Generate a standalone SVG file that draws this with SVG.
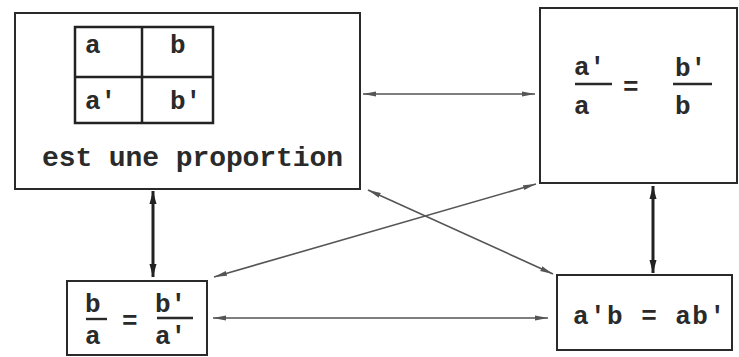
<svg xmlns="http://www.w3.org/2000/svg" width="739" height="357" viewBox="0 0 739 357">
<style>
.box{fill:none;stroke:#2a2a2a;stroke-width:2}
.grid{fill:none;stroke:#222;stroke-width:2.5}
.t{font-family:"Liberation Mono","Courier New",monospace;font-weight:bold;fill:#2a2a2a;font-size:26px}
.bar{stroke:#2a2a2a;stroke-width:2.4}
.thin{stroke:#555;stroke-width:1.6;fill:none;marker-start:url(#ah);marker-end:url(#ah)}
.thick{stroke:#222;stroke-width:3;fill:none;marker-start:url(#ahk);marker-end:url(#ahk)}
</style>
<defs>
<marker id="ah" markerUnits="userSpaceOnUse" markerWidth="14" markerHeight="8" refX="13" refY="3" orient="auto-start-reverse" viewBox="0 0 14 6">
<path d="M0,0.5 L13,3 L0,5.5 z" fill="#555"/>
</marker>
<marker id="ahk" markerUnits="userSpaceOnUse" markerWidth="14" markerHeight="8" refX="13" refY="4" orient="auto-start-reverse" viewBox="0 0 14 8">
<path d="M0,0.5 L13,4 L0,7.5 z" fill="#222"/>
</marker>
</defs>
<rect width="739" height="357" fill="#fff"/>
<g id="connectors">
<line class="thin" x1="363" y1="94" x2="535" y2="94"/>
<line class="thick" x1="153" y1="191" x2="153" y2="277"/>
<line class="thick" x1="653" y1="186" x2="653" y2="273"/>
<line class="thin" x1="214" y1="277" x2="536" y2="184"/>
<line class="thin" x1="368" y1="190" x2="553" y2="274"/>
<line class="thin" x1="213" y1="318" x2="548" y2="318"/>
</g>
<g id="proportion">
<rect class="box" x="15" y="13" width="345" height="176"/>
<rect class="grid" x="75" y="27" width="138" height="96"/>
<line class="grid" x1="75" y1="77" x2="213" y2="77"/>
<line class="grid" x1="142" y1="27" x2="142" y2="123"/>
<text class="t" x="85" y="53">a</text>
<text class="t" x="170" y="53">b</text>
<text class="t" x="85" y="109">a'</text>
<text class="t" x="170" y="109">b'</text>
<text class="t" style="font-size:28px" x="42" y="166" textLength="301" lengthAdjust="spacing">est une proportion</text>
</g>
<g id="ratio-a">
<rect class="box" x="540" y="8" width="197" height="175"/>
<text class="t" x="574" y="75">a'</text>
<line class="bar" x1="575" y1="84" x2="612" y2="84"/>
<text class="t" x="574" y="114">a</text>
<text class="t" x="623" y="95">=</text>
<text class="t" x="675" y="76">b'</text>
<line class="bar" x1="673" y1="84" x2="712" y2="84"/>
<text class="t" x="675" y="114">b</text>
</g>
<g id="ratio-b">
<rect class="box" x="67" y="281" width="140" height="74"/>
<text class="t" x="85" y="312">b</text>
<line class="bar" x1="86" y1="319" x2="107" y2="319"/>
<text class="t" x="85" y="344">a</text>
<text class="t" x="122" y="329">=</text>
<text class="t" x="155" y="312">b'</text>
<line class="bar" x1="157" y1="318" x2="193" y2="318"/>
<text class="t" x="155" y="344">a'</text>
</g>
<g id="product">
<rect class="box" x="557" y="275" width="175" height="75"/>
<text class="t" x="573" y="324" textLength="152" lengthAdjust="spacing">a'b = ab'</text>
</g>
</svg>
